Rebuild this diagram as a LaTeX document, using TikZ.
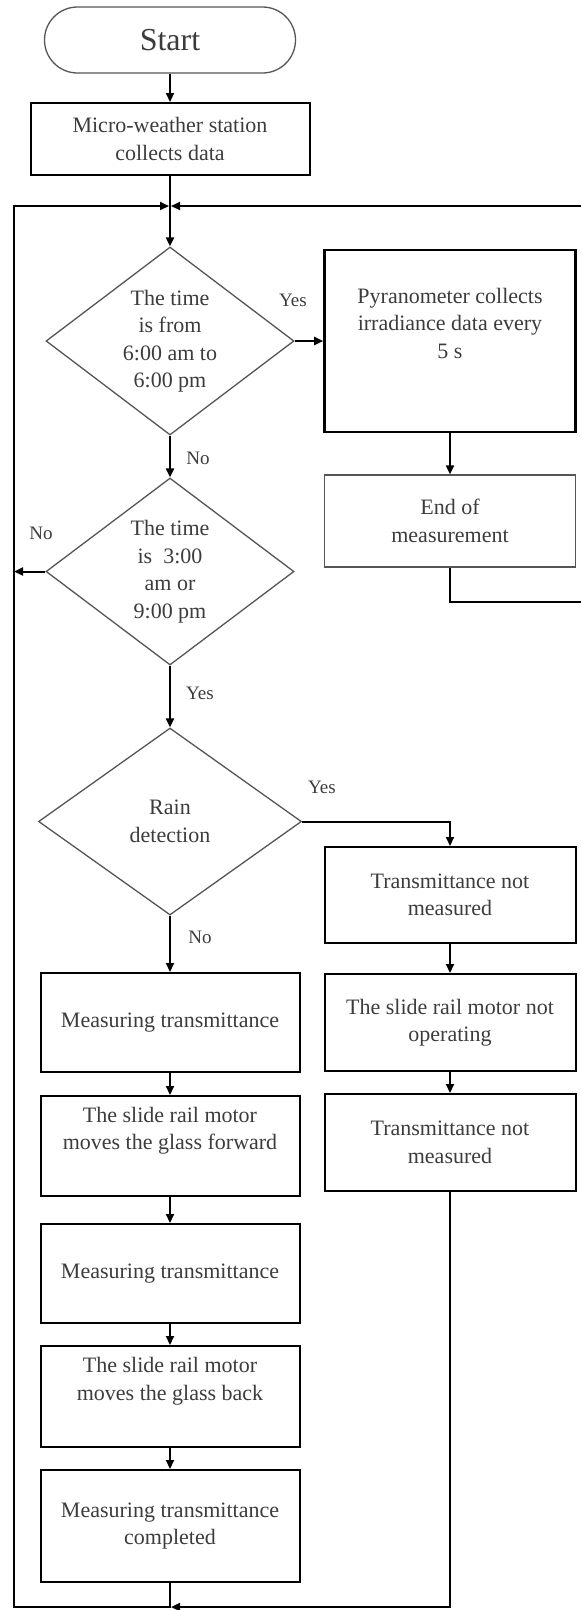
\documentclass[tikz,border=0pt]{standalone}
\usepackage{fontspec}
\setmainfont{Liberation Serif}
\usepackage{xcolor}
\usepackage{tikz}
\usetikzlibrary{shapes.geometric, arrows.meta}
\definecolor{txtgray}{HTML}{3C3C3C}
\definecolor{diagray}{HTML}{555555}
\newcommand{\boxfont}{\fontsize{22pt}{27.5pt}\selectfont}
\newcommand{\lblfont}{\fontsize{19pt}{23pt}\selectfont}

\tikzset{
    procbox/.style={draw, line width=2pt, align=center, inner sep=0pt, text=txtgray, font=\boxfont},
    decision/.style={diamond, draw=diagray, line width=1.3pt, inner sep=0pt},
    dtext/.style={align=center, text=txtgray, font=\boxfont},
    lbl/.style={text=txtgray, font=\lblfont, inner sep=0pt},
    arr/.style={line width=2pt, -{Triangle[length=9pt,width=8pt]}},
    rail/.style={line width=2pt}
}

\begin{document}
\begin{tikzpicture}[x=1pt, y=-1pt]
            \useasboundingbox (0,0) rectangle (581,1610);

            %Nodes
            \node[draw=diagray, line width=1.3pt, rounded corners=33pt, minimum width=251pt, minimum height=66pt,
                text=txtgray, font=\fontsize{32pt}{36pt}\selectfont] at (170,40) (start) {Start};
            \node[procbox, minimum width=279pt, minimum height=72pt] at (170,139) (micro) {Micro-weather station\\collects data};
            \coordinate (merge) at (170,206);

            \node[decision, minimum width=248pt, minimum height=188pt,
                label={[dtext]center:{The time\\is from\\6:00 am to\\6:00 pm}}] at (170,341) (time1) {};
            \node[procbox, line width=2.6pt, minimum width=251pt, minimum height=182pt] at (450,341) (pyra) {Pyranometer collects\\irradiance data every\\5 s\\\strut};
            \node[procbox, draw=diagray, line width=1.3pt, minimum width=251pt, minimum height=92pt] at (450,521) (endm) {End of\\measurement};
            \coordinate (endturn) at (590,602);

            \node[decision, minimum width=248pt, minimum height=187pt,
                label={[dtext]center:{The time\\is\ \ 3:00\\am or\\9:00 pm}}] at (170,571.5) (time2) {};
            \node[decision, minimum width=263pt, minimum height=187pt,
                label={[dtext]center:{Rain\\detection}}] at (170,821.5) (rain) {};

            \node[procbox, minimum width=251pt, minimum height=96pt] at (450,895) (notm1) {Transmittance not\\measured};
            \node[procbox, minimum width=251pt, minimum height=97pt] at (450,1022.5) (motoff) {The slide rail motor not\\operating};
            \node[procbox, minimum width=251pt, minimum height=97pt] at (450,1142.5) (notm2) {Transmittance not\\measured};

            \node[procbox, minimum width=259pt, minimum height=99pt] at (170,1022.5) (meas1) {Measuring transmittance};
            \node[procbox, minimum width=259pt, minimum height=100pt] at (170,1146) (fwd) {The slide rail motor\\moves the glass forward\\\strut};
            \node[procbox, minimum width=259pt, minimum height=99pt] at (170,1273.5) (meas2) {Measuring transmittance};
            \node[procbox, minimum width=259pt, minimum height=101pt] at (170,1396.5) (back) {The slide rail motor\\moves the glass back\\\strut};
            \node[procbox, minimum width=259pt, minimum height=112pt] at (170,1526) (done) {Measuring transmittance\\completed};

            \coordinate (leftbot) at (14,1607);
            \coordinate (bot) at (171,1607);

            %Labels
            \node[lbl] at (293,300) (yes1) {Yes};
            \node[lbl] at (198,458) (no1) {No};
            \node[lbl] at (41,533) (no2) {No};
            \node[lbl] at (200,693) (yes2) {Yes};
            \node[lbl] at (322,787) (yes3) {Yes};
            \node[lbl] at (200,937) (no3) {No};

            %Lines
            \draw[arr] (start) -- (micro);
            \draw[arr] (micro) -- (time1);
            \draw[arr] (time1.east) -- (pyra.west);
            \draw[arr] (pyra) -- (endm);
            \draw[arr] (endm.south) |- (endturn) |- ([xshift=1pt]merge);
            \draw[arr] (time1) -- (time2);
            \draw[arr] (time2.west) -- (time2.west -| leftbot);
            \draw[arr] (time2) -- (rain);
            \draw[arr] (rain.east) -| (notm1.north);
            \draw[arr] (rain) -- (meas1);
            \draw[arr] (notm1) -- (motoff);
            \draw[arr] (motoff) -- (notm2);
            \draw[arr] (meas1) -- (fwd);
            \draw[arr] (fwd) -- (meas2);
            \draw[arr] (meas2) -- (back);
            \draw[arr] (back) -- (done);
            \draw[arr] (done.south) |- (leftbot) |- ([xshift=-1pt]merge);
            \draw[arr] (notm2.south) |- (bot);
        \end{tikzpicture}
\end{document}
